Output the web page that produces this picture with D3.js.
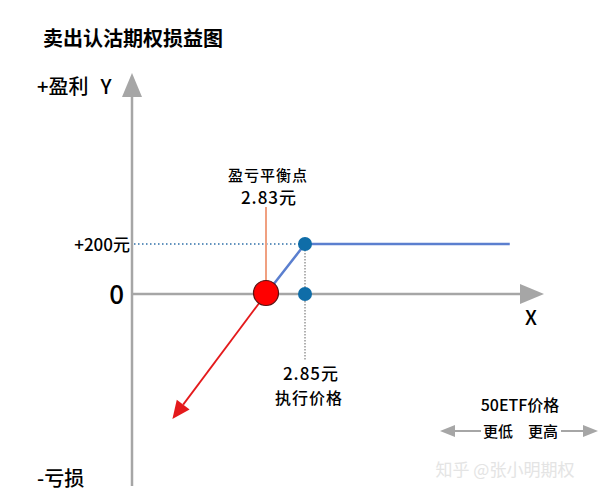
<!DOCTYPE html>
<html><head><meta charset="utf-8">
<script src="https://cdn.jsdelivr.net/npm/d3@7"></script>
<style>body{margin:0;background:#fff}svg{display:block}text{font-family:"Noto Sans CJK SC","Noto Sans",sans-serif}</style>
</head><body>
<script>
// Data
const profitPrices = [2.83, 2.85, 2.955];     // blue payoff segment (break-even -> strike -> right)
const profitValues = [0, 200, 200];
const lossPrices = [2.83, 2.782];              // red loss arrow
const lossValues = [0, -500];
const breakEven = 2.83;
const strike = 2.85;
const premium = 200;
const labels = {
  title: "卖出认沽期权损益图",
  yTop: "+盈利",
  yName: "Y",
  yBottom: "-亏损",
  prem: "+200元",
  zero: "0",
  beTitle: "盈亏平衡点",
  beValue: "2.83元",
  strikeValue: "2.85元",
  strikeTitle: "执行价格",
  xName: "X",
  etf: "50ETF价格",
  lower: "更低",
  higher: "更高",
  watermark: "知乎 @张小明期权"
};

const W = 600, H = 497;
const svg = d3.select("body").append("svg").attr("width", W).attr("height", H);

const x = d3.scaleLinear().domain([breakEven, strike]).range([266, 305]);
const y = d3.scaleLinear().domain([0, premium]).range([294, 244]);
const axisX = x.invert(132);

const gray = "#a6a6a6";
// axes
svg.append("line").attr("x1", x(axisX)).attr("x2", x(axisX)).attr("y1", 95).attr("y2", 486)
  .attr("stroke", gray).attr("stroke-width", 2.5);
svg.append("path").attr("d", `M${x(axisX)-10},97 L${x(axisX)},73 L${x(axisX)+10},97 Z`).attr("fill", gray);
svg.append("line").attr("x1", x(axisX)).attr("x2", 522).attr("y1", y(0)).attr("y2", y(0))
  .attr("stroke", gray).attr("stroke-width", 2.5);
svg.append("path").attr("d", `M520,${y(0)-10} L544,${y(0)} L520,${y(0)+10} Z`).attr("fill", gray);

// dotted premium line
svg.append("line").attr("x1", x(axisX)+2).attr("x2", x(strike)-6).attr("y1", y(premium)).attr("y2", y(premium))
  .attr("stroke", "#2f6fa8").attr("stroke-width", 1.3).attr("stroke-dasharray", "1.5,2.5");
// dotted strike vertical
svg.append("line").attr("x1", x(strike)).attr("x2", x(strike)).attr("y1", y(premium)).attr("y2", 360)
  .attr("stroke", "#888").attr("stroke-width", 1.3).attr("stroke-dasharray", "1.5,1.5");

// orange vertical for break-even
svg.append("line").attr("x1", x(breakEven)).attr("x2", x(breakEven)).attr("y1", 207).attr("y2", y(0))
  .attr("stroke", "#f0a080").attr("stroke-width", 2);

// blue payoff
const line = d3.line().x((d, i) => x(profitPrices[i])).y(d => y(d));
svg.append("path").attr("d", line(profitValues)).attr("fill", "none")
  .attr("stroke", "#5b7fcf").attr("stroke-width", 2.5);

// red loss line + arrowhead
const lx0 = x(lossPrices[0]), ly0 = y(lossValues[0]), lx1 = x(lossPrices[1]), ly1 = y(lossValues[1]);
const ang = Math.atan2(ly1 - ly0, lx1 - lx0);
const hl = 18, hw = 8;
const bx = lx1 - hl*Math.cos(ang), by = ly1 - hl*Math.sin(ang);
svg.append("line").attr("x1", lx0).attr("y1", ly0).attr("x2", bx).attr("y2", by)
  .attr("stroke", "#e41a1c").attr("stroke-width", 1.8);
svg.append("path").attr("d", `M${lx1},${ly1} L${bx + hw*Math.sin(ang)},${by - hw*Math.cos(ang)} L${bx - hw*Math.sin(ang)},${by + hw*Math.cos(ang)} Z`)
  .attr("fill", "#e41a1c");

// dots
svg.append("circle").attr("cx", x(strike)).attr("cy", y(premium)).attr("r", 7).attr("fill", "#0f6da8");
svg.append("circle").attr("cx", x(strike)).attr("cy", y(0)).attr("r", 7).attr("fill", "#0f6da8");
svg.append("circle").attr("cx", x(breakEven)).attr("cy", y(0)-1).attr("r", 12.5).attr("fill", "#ff0000")
  .attr("stroke", "#5a1010").attr("stroke-width", 1.2);

// texts
function txt(t, px, py, size, anchor, opts = {}) {
  return svg.append("text").attr("x", px).attr("y", py).attr("font-size", size)
    .attr("text-anchor", anchor || "start").attr("fill", opts.fill || "#000")
    .attr("font-weight", opts.weight || 500)
    .attr("letter-spacing", opts.ls || 0).text(t);
}
txt(labels.title, 43, 46, 20, "start", {weight: "bold"});
txt(labels.yTop, 37, 94, 20, "start");
txt(labels.yName, 106, 94, 20, "middle");
txt(labels.yBottom, 37, 486, 20, "start");
txt(labels.prem, 130, 251, 17, "end");
txt(labels.zero, 124, 304, 26, "end");
txt(labels.beTitle, 268, 181, 15, "middle", {ls: 1});
txt(labels.beValue, 269, 204, 17, "middle", {ls: 1});
txt(labels.strikeValue, 311, 380, 17, "middle", {ls: 1});
txt(labels.strikeTitle, 309, 404, 16, "middle", {ls: 1});
txt(labels.xName, 531, 325, 20, "middle");
txt(labels.etf, 520, 411, 16, "middle");
txt(labels.lower, 498, 437, 15, "middle");
txt(labels.higher, 543, 437, 15, "middle");
txt(labels.watermark, 505, 476, 17, "middle", {fill: "#e4e4e4", weight: "normal"});

// bottom direction arrows
svg.append("line").attr("x1", 452).attr("x2", 481).attr("y1", 431).attr("y2", 431).attr("stroke", gray).attr("stroke-width", 2);
svg.append("path").attr("d", "M440,431 L455,425 L455,437 Z").attr("fill", gray);
svg.append("line").attr("x1", 561).attr("x2", 586).attr("y1", 431).attr("y2", 431).attr("stroke", gray).attr("stroke-width", 2);
svg.append("path").attr("d", "M598,431 L583,425 L583,437 Z").attr("fill", gray);
</script>
</body></html>
